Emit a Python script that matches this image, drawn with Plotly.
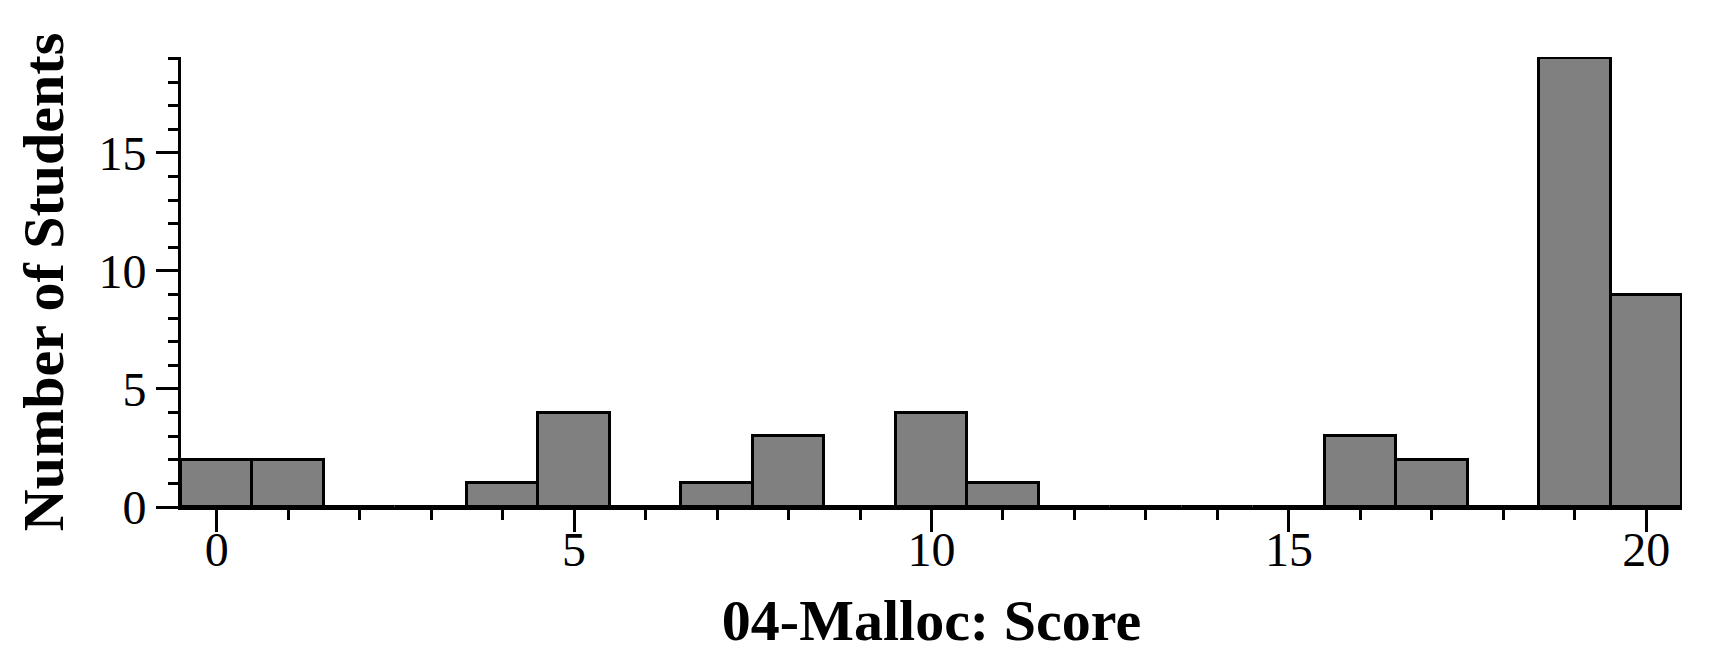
import plotly.graph_objects as go

scores = list(range(0, 21))
counts = [2, 2, 0, 0, 1, 4, 0, 1, 3, 0, 4, 1, 0, 0, 0, 0, 3, 2, 0, 19, 9]
x_tick_vals = [0, 5, 10, 15, 20]
y_tick_vals = [0, 5, 10, 15]
x_title = "04-Malloc: Score"
y_title = "Number of Students"

FONT = "Liberation Serif"

fig = go.Figure(
    go.Bar(
        x=scores,
        y=counts,
        width=1,
        marker=dict(color="#808080", line=dict(color="black", width=3)),
        showlegend=False,
    )
)

axis_common = dict(
    showline=True,
    linecolor="black",
    linewidth=3,
    ticks="outside",
    ticklen=22,
    tickwidth=3,
    tickcolor="black",
    showgrid=False,
    zeroline=False,
    automargin=False,
    tickfont=dict(family=FONT, size=48, color="black"),
    minor=dict(ticks="outside", ticklen=10, tickwidth=3, tickcolor="black", dtick=1, showgrid=False),
)

fig.update_xaxes(
    range=[-0.5, 20.5],
    tickvals=x_tick_vals,
    ticklabelstandoff=-24,
    title=dict(text=x_title, font=dict(family=FONT, size=58, color="black", weight="bold"), standoff=25),
    **axis_common,
)
fig.update_yaxes(
    range=[0, 19.06],
    tickvals=y_tick_vals,
    title=dict(text=y_title, font=dict(family=FONT, size=58, color="black", weight="bold"), standoff=17),
    **axis_common,
)

# page body has an 8px default margin; size the figure to compensate
fig.update_layout(
    width=1712,
    height=662,
    margin=dict(l=173, r=38, t=49, b=163),
    plot_bgcolor="white",
    paper_bgcolor="white",
    bargap=0,
    font=dict(family=FONT, color="black"),
)

fig.write_html("out.html")
